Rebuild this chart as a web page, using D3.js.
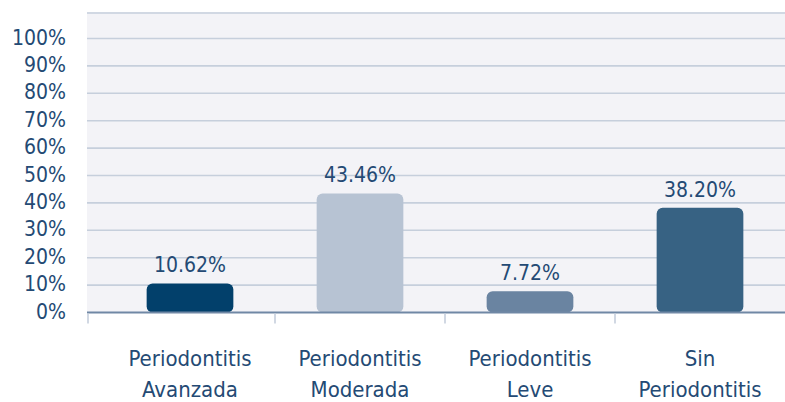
<!DOCTYPE html>
<html>
<head>
<meta charset="utf-8">
<script src="https://cdn.jsdelivr.net/npm/d3@7"></script>
<style>
  body { margin: 0; background: #fff; }
  svg { display: block; }
  text { font-family: "DejaVu Sans Condensed", "Liberation Sans Narrow", sans-serif; fill: #244a74; }
</style>
</head>
<body>
<svg width="785" height="402"></svg>
<script>
// data
let categories = [["Periodontitis", "Avanzada"], ["Periodontitis", "Moderada"], ["Periodontitis", "Leve"], ["Sin", "Periodontitis"]]
let values = [10.62, 43.46, 7.72, 38.20]
let value_labels = ["10.62%", "43.46%", "7.72%", "38.20%"]
let bar_colors = ["#02406b", "#b7c3d3", "#6a84a1", "#376283"]
let y_ticks = [0, 10, 20, 30, 40, 50, 60, 70, 80, 90, 100]

let W = 785
let plot_left = 87
let plot_top = 12

let svg = d3.select("svg")

let x = d3.scaleBand()
    .domain(d3.range(categories.length))
    .range([105, W])
    .paddingInner(0.49)
    .paddingOuter(0.245)

let y = d3.scaleLinear().domain([0, 100]).range([312.5, 38.5])

// plot background
svg.append("rect")
    .attr("x", plot_left).attr("y", plot_top)
    .attr("width", W - plot_left).attr("height", y(0) - plot_top)
    .attr("fill", "#f3f3f7")

// top border + grid lines
svg.append("line")
    .attr("x1", plot_left).attr("x2", W)
    .attr("y1", plot_top + 1).attr("y2", plot_top + 1)
    .attr("stroke", "#c6cfdc").attr("stroke-width", 1.6)

svg.append("g").selectAll("line")
    .data(y_ticks.filter(d => d > 0))
    .enter()
    .append("line")
    .attr("x1", plot_left).attr("x2", W)
    .attr("y1", d => y(d)).attr("y2", d => y(d))
    .attr("stroke", "#c6cfdc").attr("stroke-width", 1.6)

// y labels
svg.append("g").selectAll("text")
    .data(y_ticks)
    .enter()
    .append("text")
    .attr("x", 66)
    .attr("y", d => y(d) + 6)
    .attr("text-anchor", "end")
    .style("font-size", "21px")
    .text(d => d + "%")

// bars
svg.append("g").selectAll("rect")
    .data(values)
    .enter()
    .append("rect")
    .attr("x", (d, i) => x(i))
    .attr("y", d => y(d))
    .attr("width", x.bandwidth())
    .attr("height", d => y(0) - y(d))
    .attr("rx", 6).attr("ry", 6)
    .attr("fill", (d, i) => bar_colors[i])

// value labels
svg.append("g").selectAll("text")
    .data(values)
    .enter()
    .append("text")
    .attr("x", (d, i) => x(i) + x.bandwidth() / 2)
    .attr("y", d => y(d) - 11)
    .attr("text-anchor", "middle")
    .style("font-size", "21px")
    .text((d, i) => value_labels[i])

// x axis line and ticks
svg.append("line")
    .attr("x1", plot_left).attr("x2", W)
    .attr("y1", y(0)).attr("y2", y(0))
    .attr("stroke", "#7088a5").attr("stroke-width", 2)

let step = x.step()
let tick_x = [plot_left + 1].concat(d3.range(1, categories.length).map(i => x(i) - step * x.paddingOuter()))
svg.append("g").selectAll("line")
    .data(tick_x)
    .enter()
    .append("line")
    .attr("x1", d => d).attr("x2", d => d)
    .attr("y1", y(0) + 1).attr("y2", y(0) + 11)
    .attr("stroke", "#c6cfdc").attr("stroke-width", 1.6)

// category labels
let cat = svg.append("g").selectAll("text")
    .data(categories)
    .enter()
    .append("text")
    .attr("text-anchor", "middle")
    .style("font-size", "22px")
cat.selectAll("tspan")
    .data((d, i) => d.map(t => [t, i]))
    .enter()
    .append("tspan")
    .attr("x", d => x(d[1]) + x.bandwidth() / 2)
    .attr("y", (d, j) => 366 + j * 31)
    .text(d => d[0])
</script>
</body>
</html>
